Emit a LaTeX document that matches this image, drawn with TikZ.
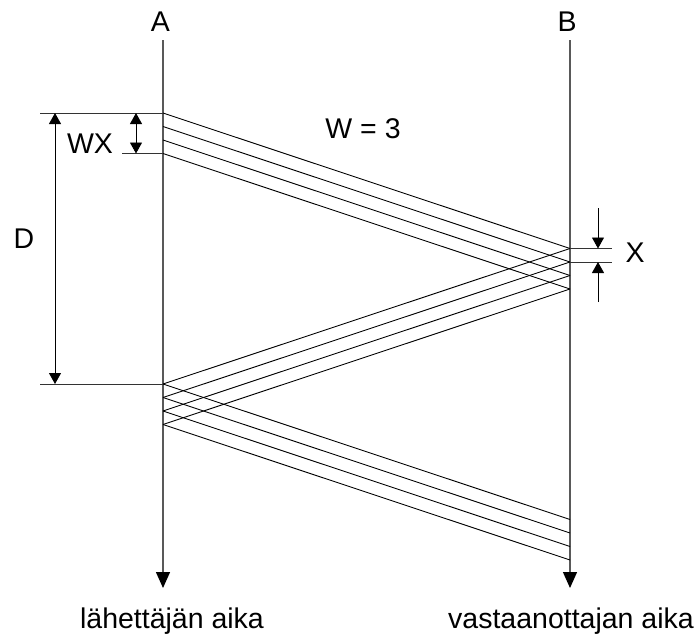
\documentclass[tikz,border=0pt]{standalone}
\usepackage{fontspec}
\setmainfont{Liberation Sans}
\usetikzlibrary{arrows.meta}
\begin{document}
\begin{tikzpicture}[x=1pt,y=-1pt,
  axis/.style={line width=1.3pt,draw=black!65,-{Triangle[length=16pt,width=14pt,fill=black,color=black]}},
  sig/.style={line width=0.9pt,draw=black},
  ext/.style={line width=0.9pt,draw=black!80},
  dimarr/.style={line width=0.9pt,draw=black,{Triangle[length=11pt,width=12pt]}-{Triangle[length=11pt,width=12pt]}},
  onearr/.style={line width=0.9pt,draw=black,-{Triangle[length=11pt,width=12pt]}},
  lbl/.style={font=\fontsize{28.5}{32}\selectfont,inner sep=0pt,anchor=base}]
\useasboundingbox (0,0) rectangle (699,638);
% axes
\coordinate (At) at (163,40); \coordinate (Ab) at (163,588);
\coordinate (Bt) at (570,40); \coordinate (Bb) at (570,588);
\draw[axis] (At) -- (Ab);
\draw[axis] (Bt) -- (Bb);
% signal lines
\foreach \i in {0,1,2,3}{
  \coordinate (s\i) at (163,{113+13.5*\i});
  \coordinate (r\i) at (570,{248.5+13.5*\i});
  \coordinate (q\i) at (163,{384+13.5*\i});
  \coordinate (e\i) at (570,{519.5+13.5*\i});
  \draw[sig] (s\i) -- (r\i);
  \draw[sig] (r\i) -- (q\i);
  \draw[sig] (q\i) -- (e\i);
}
% D dimension
\coordinate (Dt) at (40,113); \coordinate (Db) at (40,384);
\draw[ext] (Dt) -- (s0);
\draw[ext] (Db) -- (q0);
\coordinate (Da) at (55,113); \coordinate (Dz) at (55,384);
\draw[dimarr] (Da) -- (Dz);
% WX dimension
\coordinate (Wl) at (122,153.5);
\draw[ext] (Wl) -- (s3);
\coordinate (Wa) at (136,113); \coordinate (Wz) at (136,153.5);
\draw[dimarr] (Wa) -- (Wz);
% X dimension
\coordinate (X1) at (612,248.5); \coordinate (X2) at (612,262);
\draw[ext] (r0) -- (X1);
\draw[ext] (r1) -- (X2);
\coordinate (Xa) at (598,208); \coordinate (Xat) at (598,248.5);
\coordinate (Xb) at (598,302); \coordinate (Xbt) at (598,262);
\draw[onearr] (Xa) -- (Xat);
\draw[onearr] (Xb) -- (Xbt);
% labels
\node[lbl] (lA) at (160.5,31) {A};
\node[lbl] (lB) at (567,31) {B};
\node[lbl] (lW) at (363,138) {W = 3};
\node[lbl] (lD) at (24,248) {D};
\node[lbl] (lWX) at (90,153) {WX};
\node[lbl] (lX) at (635,262) {X};
\node[lbl] (lS) at (172,628) {lähettäjän aika};
\node[lbl] (lR) at (571,628) {vastaanottajan aika};
\end{tikzpicture}
\end{document}
